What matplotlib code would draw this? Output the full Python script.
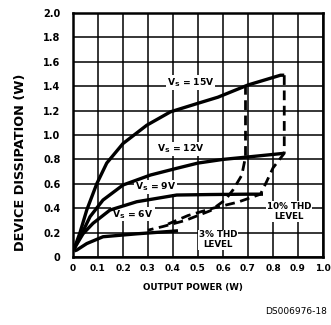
import matplotlib
matplotlib.use("Agg")
import matplotlib.pyplot as plt

# ---------- DATA ----------
# device dissipation (W) vs output power (W) for each supply voltage
p_15v = [0.005, 0.028, 0.055, 0.095, 0.135, 0.20, 0.295, 0.39, 0.50, 0.58, 0.70, 0.83, 0.845]
d_15v = [0.07, 0.20, 0.385, 0.60, 0.77, 0.93, 1.08, 1.19, 1.26, 1.31, 1.41, 1.49, 1.49]

p_12v = [0.005, 0.035, 0.068, 0.12, 0.20, 0.31, 0.415, 0.50, 0.60, 0.70, 0.845]
d_12v = [0.07, 0.19, 0.33, 0.467, 0.59, 0.672, 0.727, 0.77, 0.80, 0.82, 0.85]

p_9v = [0.005, 0.04, 0.08, 0.148, 0.255, 0.415, 0.55, 0.70, 0.76]
d_9v = [0.07, 0.19, 0.276, 0.385, 0.453, 0.508, 0.512, 0.515, 0.515]

p_6v = [0.005, 0.015, 0.055, 0.12, 0.255, 0.39, 0.42]
d_6v = [0.05, 0.057, 0.11, 0.166, 0.19, 0.21, 0.215]

# THD limit lines
thd3_p = [0.69, 0.69, 0.675, 0.64, 0.61, 0.55, 0.45, 0.36, 0.30]
thd3_d = [1.41, 0.82, 0.67, 0.55, 0.47, 0.38, 0.30, 0.25, 0.22]
thd10_p = [0.845, 0.845, 0.80, 0.775, 0.75, 0.66, 0.56, 0.46, 0.38]
thd10_d = [1.49, 0.85, 0.73, 0.62, 0.515, 0.45, 0.40, 0.34, 0.27]

x_ticks = [0, 0.1, 0.2, 0.3, 0.4, 0.5, 0.6, 0.7, 0.8, 0.9, 1.0]
x_labels = ["0", "0.1", "0.2", "0.3", "0.4", "0.5", "0.6", "0.7", "0.8", "0.9", "1.0"]
y_ticks = [0, 0.2, 0.4, 0.6, 0.8, 1.0, 1.2, 1.4, 1.6, 1.8, 2.0]
y_labels = ["0", "0.2", "0.4", "0.6", "0.8", "1.0", "1.2", "1.4", "1.6", "1.8", "2.0"]

# ---------- STYLE ----------
plt.rcParams['font.family'] = ['DejaVu Sans']
plt.rcParams['font.weight'] = 'bold'
plt.rcParams['mathtext.default'] = 'bf'

fig = plt.figure(figsize=(3.31, 3.25), dpi=100)
fig.patch.set_facecolor('white')
ax = fig.add_axes([73 / 331, 68 / 325, 250 / 331, 244 / 325])

ax.set_xlim(0, 1.0)
ax.set_ylim(0, 2.0)
ax.set_xticks(x_ticks)
ax.set_xticklabels(x_labels, fontsize=6.5, fontweight='bold')
ax.set_yticks(y_ticks)
ax.set_yticklabels(y_labels, fontsize=7, fontweight='bold')
ax.tick_params(length=0)
ax.tick_params(axis='y', pad=9)
ax.tick_params(axis='x', pad=5)
ax.grid(True, color='black', linewidth=1.1)
ax.set_axisbelow(True)
for s in ax.spines.values():
    s.set_linewidth(1.8)

# ---------- CURVES ----------
lw = 2.4
for px, dy in [(p_15v, d_15v), (p_12v, d_12v), (p_9v, d_9v), (p_6v, d_6v)]:
    ax.plot(px, dy, color='black', lw=lw, solid_capstyle='butt',
            solid_joinstyle='round', zorder=4)
ax.plot(thd3_p, thd3_d, color='black', lw=2.0, dashes=(3.5, 2), zorder=4)
ax.plot(thd10_p, thd10_d, color='black', lw=2.0, dashes=(3.5, 2), zorder=4)

# labels sit on white patches that hide the grid, curves stay on top
box = dict(facecolor='white', edgecolor='none', pad=0.6)
fs = 6.6
ax.text(0.47, 1.43, r"V$_S$ = 15V", fontsize=fs, ha='center', va='center', bbox=box, zorder=3)
ax.text(0.43, 0.885, r"V$_S$ = 12V", fontsize=fs, ha='center', va='center', bbox=box, zorder=3)
ax.text(0.33, 0.575, r"V$_S$ = 9V", fontsize=fs, ha='center', va='center', bbox=box, zorder=3)
ax.text(0.24, 0.35, r"V$_S$ = 6V", fontsize=fs, ha='center', va='center', bbox=box, zorder=3)
ax.text(0.865, 0.37, "10% THD\nLEVEL", fontsize=6.3, ha='center', va='center',
        linespacing=1.15, bbox=box, zorder=5)
ax.text(0.58, 0.14, "3% THD\nLEVEL", fontsize=6.3, ha='center', va='center',
        linespacing=1.15, bbox=box, zorder=5)

ax.set_xlabel("OUTPUT POWER (W)", fontsize=6.3, fontweight='bold')
ax.xaxis.set_label_coords(0.48, -0.105)
ax.set_ylabel("DEVICE DISSIPATION (W)", fontsize=9.3, fontweight='bold')
ax.yaxis.set_label_coords(-0.185, 0.39)

fig.text(327 / 331, 1 - 312 / 325, "DS006976-18", fontsize=6.5, fontweight='normal',
         ha='right', va='center')

fig.savefig("out.png", dpi=100, facecolor='white')
